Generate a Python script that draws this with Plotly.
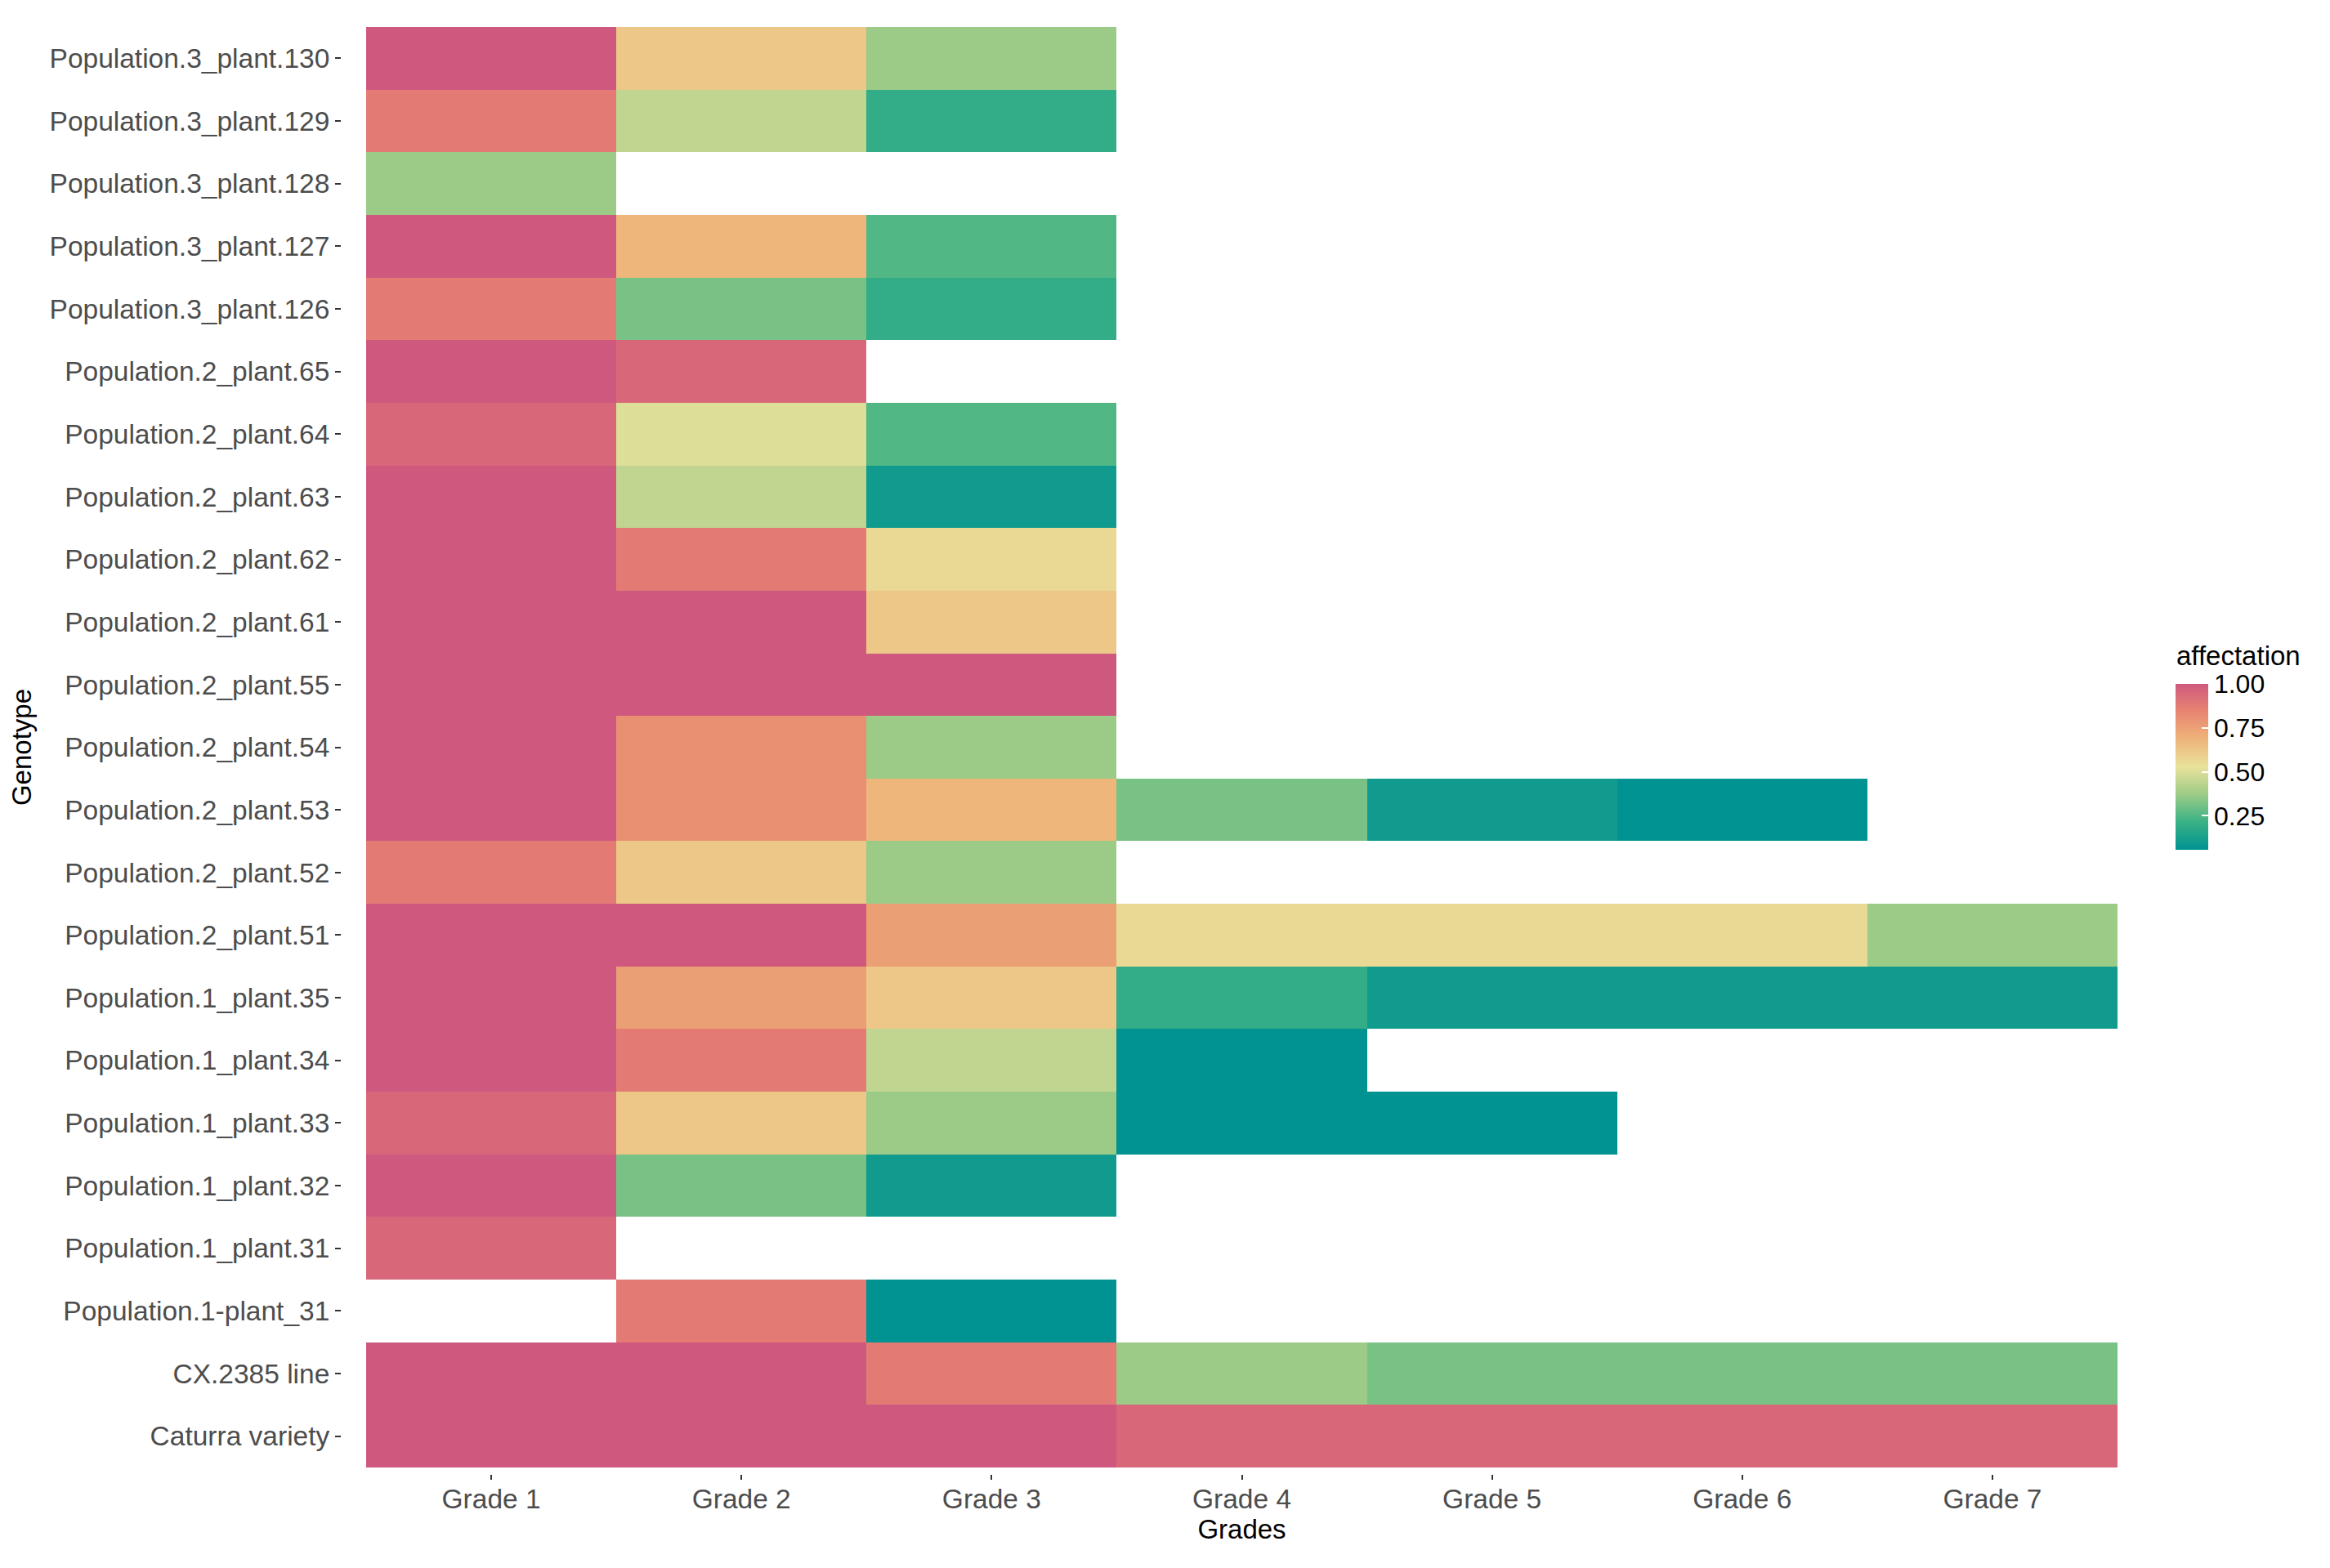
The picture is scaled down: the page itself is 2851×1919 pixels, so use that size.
import plotly.graph_objects as go

genotypes = [
    "Population.3_plant.130", "Population.3_plant.129", "Population.3_plant.128",
    "Population.3_plant.127", "Population.3_plant.126", "Population.2_plant.65",
    "Population.2_plant.64", "Population.2_plant.63", "Population.2_plant.62",
    "Population.2_plant.61", "Population.2_plant.55", "Population.2_plant.54",
    "Population.2_plant.53", "Population.2_plant.52", "Population.2_plant.51",
    "Population.1_plant.35", "Population.1_plant.34", "Population.1_plant.33",
    "Population.1_plant.32", "Population.1_plant.31", "Population.1-plant_31",
    "CX.2385 line", "Caturra variety",
]
grades = ["Grade 1", "Grade 2", "Grade 3", "Grade 4", "Grade 5", "Grade 6", "Grade 7"]

N = None
grade1 = [1.0, 0.876, 0.37, 1.0, 0.876, 1.0, 0.945, 1.0, 1.0, 1.0, 1.0, 1.0,
          1.0, 0.876, 1.0, 1.0, 1.0, 0.945, 1.0, 0.945, N, 1.0, 1.0]
grade2 = [0.62, 0.445, N, 0.68, 0.314, 0.945, 0.503, 0.445, 0.876, 1.0, 1.0, 0.804,
          0.804, 0.62, 1.0, 0.755, 0.876, 0.62, 0.314, N, 0.876, 1.0, 1.0]
grade3 = [0.37, 0.195, N, 0.253, 0.195, N, 0.253, 0.10, 0.56, 0.62, 1.0, 0.37,
          0.68, 0.37, 0.755, 0.62, 0.445, 0.37, 0.10, N, 0.057, 0.876, 1.0]
grade4 = [N, N, N, N, N, N, N, N, N, N, N, N,
          0.314, N, 0.56, 0.195, 0.057, 0.057, N, N, N, 0.37, 0.945]
grade5 = [N, N, N, N, N, N, N, N, N, N, N, N,
          0.10, N, 0.56, 0.10, N, 0.057, N, N, N, 0.314, 0.945]
grade6 = [N, N, N, N, N, N, N, N, N, N, N, N,
          0.057, N, 0.56, 0.10, N, N, N, N, N, 0.314, 0.945]
grade7 = [N, N, N, N, N, N, N, N, N, N, N, N,
          N, N, 0.37, 0.10, N, N, N, N, N, 0.314, 0.945]

legend_ticks = [0.25, 0.50, 0.75, 1.00]
palette = ["#009392", "#39b185", "#9ccb86", "#e9e29c", "#eeb479", "#e88471", "#cf597e"]

cols = [grade1, grade2, grade3, grade4, grade5, grade6, grade7]
z = [[cols[j][i] for j in range(len(grades))] for i in range(len(genotypes))]
vals = [v for c in cols for v in c if v is not None]
zmin, zmax = min(vals), max(vals)
colorscale = [[k / (len(palette) - 1), c] for k, c in enumerate(palette)]

# page body has an 8px margin, so figure coords = screen coords - 8
W, H = 2843, 1911
ML, MR, MT, MB = 409, 260, 25, 115
pw, ph = W - ML - MR, H - MT - MB

FONT = "Liberation Sans, Arial, sans-serif"
TICKSIZE = 33.5


def py(ypix):
    return 1 - (ypix - MT) / ph


def px(xpix):
    return (xpix - ML) / pw


fig = go.Figure(go.Heatmap(
    z=z, x=grades, y=genotypes,
    zmin=zmin, zmax=zmax, colorscale=colorscale,
    hoverongaps=False,
    colorbar=dict(
        thickness=40, thicknessmode="pixels",
        len=203, lenmode="pixels",
        x=px(2654), xanchor="left", xpad=0,
        y=py((829 + 1032) / 2), yanchor="middle", ypad=0,
        outlinewidth=0,
        tickvals=legend_ticks, ticktext=[f"{t:.2f}" for t in legend_ticks],
        ticks="inside", tickcolor="white", ticklen=8, tickwidth=2,
        tickfont=dict(size=32, color="black", family=FONT),
    ),
))

fig.add_annotation(
    text="affectation", xref="paper", yref="paper",
    x=px(2653), y=py(795), xanchor="left", yanchor="middle",
    showarrow=False, font=dict(size=33, color="black", family=FONT),
)

fig.update_layout(
    width=W, height=H,
    margin=dict(l=ML, r=MR, t=MT, b=MB, autoexpand=False),
    paper_bgcolor="white", plot_bgcolor="white",
    font=dict(family=FONT),
    xaxis=dict(
        domain=[31 / pw, 1], anchor="free", position=0,
        showgrid=False, zeroline=False, showline=False,
        ticks="outside", ticklen=6, tickwidth=2, tickcolor="#333333",
        ticklabelstandoff=-5,
        tickfont=dict(size=TICKSIZE, color="#4D4D4D", family=FONT),
        title=dict(text="Grades", font=dict(size=33, color="black", family=FONT), standoff=2),
    ),
    yaxis=dict(
        domain=[8 / ph, 1], anchor="free", position=0,
        autorange="reversed",
        showgrid=False, zeroline=False, showline=False,
        ticks="outside", ticklen=7, tickwidth=2, tickcolor="#333333",
        tickfont=dict(size=TICKSIZE, color="#4D4D4D", family=FONT),
        title=dict(text="Genotype", font=dict(size=33, color="black", family=FONT), standoff=12),
    ),
)

fig.write_html("out.html")
